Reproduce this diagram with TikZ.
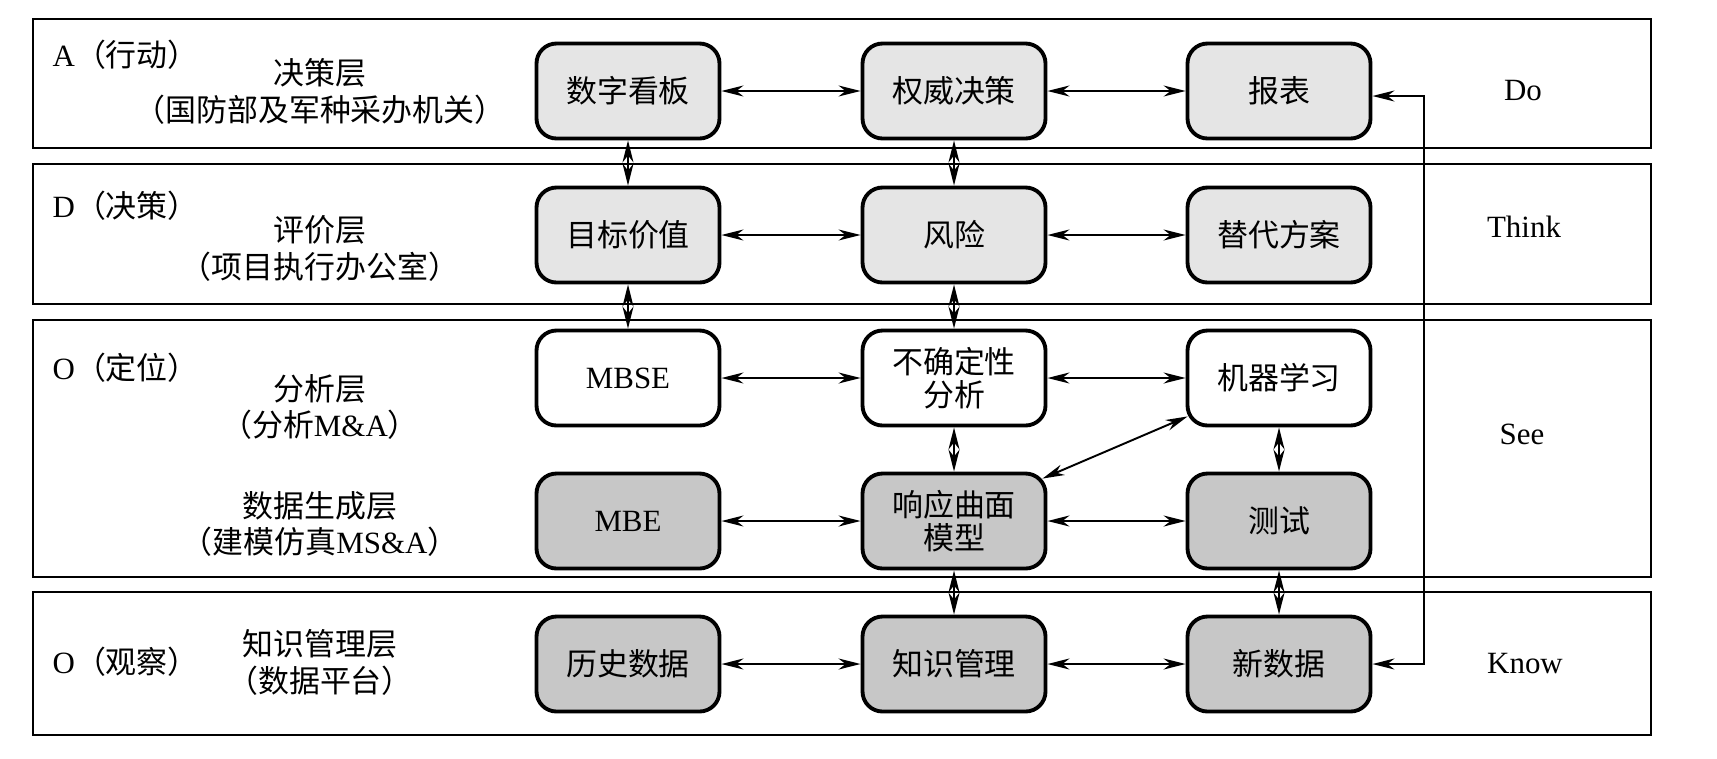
\documentclass[tikz,border=0pt]{standalone}
\usepackage{fontspec}
\setmainfont{Liberation Serif}
\newfontfamily\cjk{Noto Sans CJK SC}
\usetikzlibrary{arrows.meta}

\begin{document}
\begin{tikzpicture}[x=0.1mm, y=-0.1mm,
    font=\fontsize{8.8}{10.5}\selectfont,
    band/.style={draw, line width=0.6pt},
    box/.style={draw, line width=1.1pt, rounded corners=2mm, minimum width=18.3mm,
      minimum height=9.5mm, align=center, font=\fontsize{8.8}{9.4}\selectfont\cjk},
    light/.style={box, fill=black!10},
    dark/.style={box, fill=black!22},
    plain/.style={box, fill=white},
    link/.style={<->, >={Stealth[length=2.2mm, width=1.1mm, inset=0.7mm]}, line width=0.55pt},
    tag/.style={anchor=west, inner sep=0pt},
    layer/.style={align=center, font=\fontsize{8.8}{10.5}\selectfont\cjk}]
    \useasboundingbox (0,0) rectangle (1717,758);

    % Horizontal bands
    \foreach \t/\b in {19/148, 164/304, 320/577, 592/735} {
      \draw[band] (33,\t) rectangle (1651,\b);
    }

    % Band tags
    \node[tag] (tA) at (52,55) {A{\cjk （行动）}};
    \node[tag] (tD) at (52,206) {D{\cjk （决策）}};
    \node[tag] (tO) at (52,368) {O{\cjk （定位）}};
    \node[tag] (tK) at (52,662) {O{\cjk （观察）}};

    % Layer names
    \node[layer] (lA) at (320,91) {决策层\\（国防部及军种采办机关）};
    \node[layer] (lD) at (320,248) {评价层\\（项目执行办公室）};
    \node[layer] (lO) at (320,407) {分析层\\（分析{\rmfamily M\&A}）};
    \node[layer] (lG) at (320,524) {数据生成层\\（建模仿真{\rmfamily MS\&A}）};
    \node[layer] (lK) at (320,662) {知识管理层\\（数据平台）};

    % Boxes
    \node[light] (board) at (628,91) {数字看板};
    \node[light] (auth) at (954,91) {权威决策};
    \node[light] (report) at (1279,91) {报表};
    \node[light] (value) at (628,235) {目标价值};
    \node[light] (risk) at (954,235) {风险};
    \node[light] (alt) at (1279,235) {替代方案};
    \node[plain] (mbse) at (628,378) {\rmfamily MBSE};
    \node[plain] (uq) at (954,378) {不确定性\\分析};
    \node[plain] (ml) at (1279,378) {机器学习};
    \node[dark] (mbe) at (628,521) {\rmfamily MBE};
    \node[dark] (rsm) at (954,521) {响应曲面\\模型};
    \node[dark] (test) at (1279,521) {测试};
    \node[dark] (hist) at (628,664) {历史数据};
    \node[dark] (km) at (954,664) {知识管理};
    \node[dark] (newd) at (1279,664) {新数据};

    % Right-hand labels
    \node (do) at (1523,91) {Do};
    \node (think) at (1524,227) {Think};
    \node (see) at (1522,434) {See};
    \node (know) at (1525,664) {Know};

    % Links within rows
    \draw[link] (board) -- (auth);
    \draw[link] (auth) -- (report);
    \draw[link] (value) -- (risk);
    \draw[link] (risk) -- (alt);
    \draw[link] (mbse) -- (uq);
    \draw[link] (uq) -- (ml);
    \draw[link] (mbe) -- (rsm);
    \draw[link] (rsm) -- (test);
    \draw[link] (hist) -- (km);
    \draw[link] (km) -- (newd);

    % Links between rows
    \draw[link] (board) -- (value);
    \draw[link] (value) -- (mbse);
    \draw[link] (auth) -- (risk);
    \draw[link] (risk) -- (uq);
    \draw[link] (uq) -- (rsm);
    \draw[link] (rsm) -- (km);
    \draw[link] (ml) -- (test);
    \draw[link] (test) -- (newd);
    \draw[link] ([xshift=-0.5mm, yshift=-0.7mm]rsm.north east) -- ([xshift=0.2mm, yshift=1.1mm]ml.south west);

    % Feedback from new data to report
    \coordinate (fb) at (1424,380);
    \draw[link] ([yshift=-0.5mm]report.east) -| (fb) |- (newd.east);
\end{tikzpicture}
\end{document}
